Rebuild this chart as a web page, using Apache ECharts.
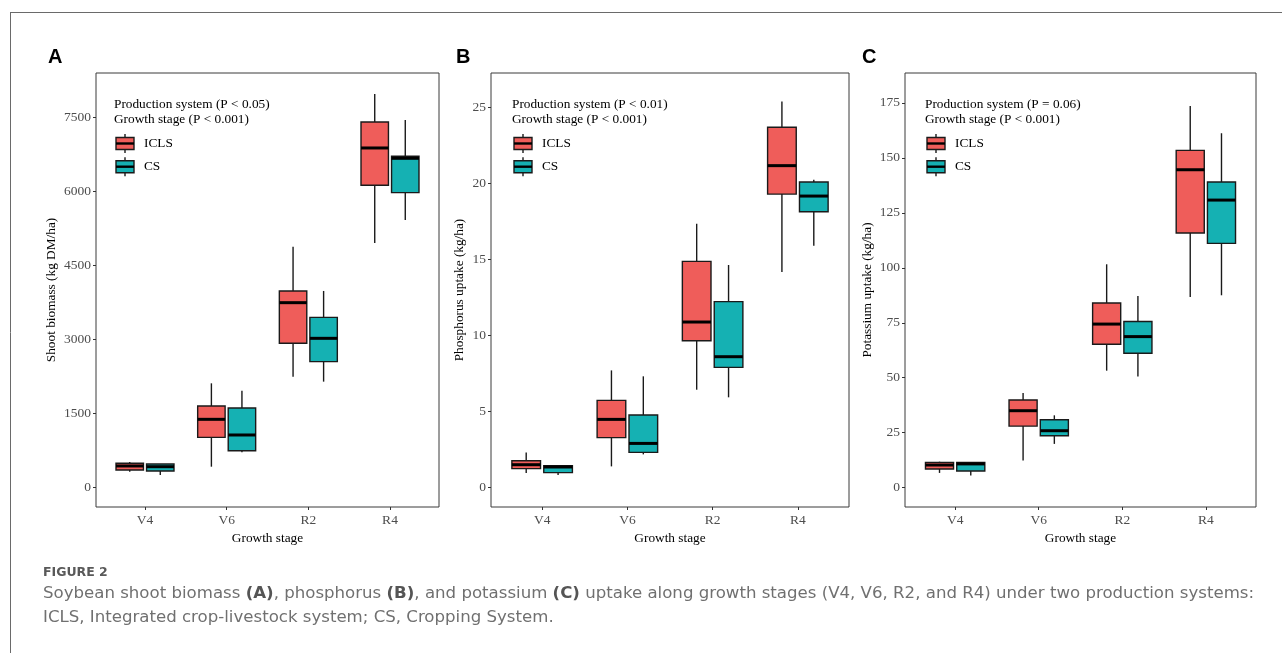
<!DOCTYPE html>
<html><head><meta charset="utf-8">
<script src="https://cdn.jsdelivr.net/npm/echarts@6/dist/echarts.min.js"></script>
<style>html,body{margin:0;padding:0;background:#fff}#c{width:1282px;height:653px}</style>
</head><body><div id="c"></div>
<script>
// ---------- data ----------
const stages = ['V4', 'V6', 'R2', 'R4'];
const systems = ['ICLS', 'CS'];
// each box: [min, Q1, median, Q3, max]
const biomassICLS = [[324, 358, 440, 494, 520], [425, 1019, 1384, 1654, 2113], [2248, 2923, 3746, 3983, 4880], [4955, 6122, 6878, 7405, 7972]];
const biomassCS   = [[257, 338, 425, 480, 480], [716, 749, 1067, 1613, 1964], [2147, 2552, 3024, 3449, 3983], [5420, 5974, 6669, 6710, 7445]];
const phosICLS = [[0.97, 1.25, 1.51, 1.77, 2.32], [1.40, 3.29, 4.49, 5.74, 7.71], [6.44, 9.66, 10.89, 14.88, 17.35], [14.18, 19.30, 21.17, 23.69, 25.39]];
const phosCS   = [[0.83, 0.99, 1.36, 1.45, 1.47], [2.19, 2.32, 2.91, 4.78, 7.32], [5.94, 7.91, 8.61, 12.23, 14.64], [15.91, 18.14, 19.17, 20.09, 20.24]];
const potICLS = [[6.7, 8.5, 10.3, 11.5, 11.8], [12.4, 28.0, 35.0, 39.9, 43.1], [53.2, 65.2, 74.4, 84.0, 101.6], [86.7, 115.8, 144.6, 153.4, 173.6]];
const potCS   = [[5.5, 7.6, 10.8, 11.5, 11.5], [19.9, 23.6, 25.9, 30.9, 32.9], [50.6, 61.1, 68.7, 75.6, 87.2], [87.5, 111.1, 130.8, 139.0, 161.2]];
const ticksA = [0, 1500, 3000, 4500, 6000, 7500];
const ticksB = [0, 5, 10, 15, 20, 25];
const ticksC = [0, 25, 50, 75, 100, 125, 150, 175];
const yNames = ['Shoot biomass (kg DM/ha)', 'Phosphorus uptake (kg/ha)', 'Potassium uptake (kg/ha)'];
const xName = 'Growth stage';
const panelLetters = ['A', 'B', 'C'];
const legendTitles = [
  ['Production system (P < 0.05)', 'Growth stage (P < 0.001)'],
  ['Production system (P < 0.01)', 'Growth stage (P < 0.001)'],
  ['Production system (P = 0.06)', 'Growth stage (P < 0.001)']
];
const captionHead = 'FIGURE 2';

// ---------- styling / layout ----------
const COLORS = ['#EF5D5A', '#15B1B3'];
const SERIF = 'Liberation Serif';
const grids = [
  {left: 96, top: 73, width: 343, height: 434},
  {left: 491, top: 73, width: 358, height: 434},
  {left: 905, top: 73, width: 351, height: 434}
];
const yRanges = [[-391, 8396], [-1.27, 27.26], [-8.8, 188.6]];
const yTicks = [ticksA, ticksB, ticksC];
const nameGaps = [38, 25, 31];
const legendOff = [ {title: 18, key: 20, lab: 48}, {title: 21, key: 23, lab: 51}, {title: 20, key: 22, lab: 50} ];
const letterX = [48, 456, 862];
const OFFSET = 0.187, BOXW = 0.336;

function boxRenderer(offset, color) {
  return function (params, api) {
    const x = api.value(0) + offset;
    const pMin = api.coord([x, api.value(1)]);
    const pQ1 = api.coord([x, api.value(2)]);
    const pMd = api.coord([x, api.value(3)]);
    const pQ3 = api.coord([x, api.value(4)]);
    const pMax = api.coord([x, api.value(5)]);
    const w = api.size([BOXW, 0])[0];
    const cx = pMd[0];
    return {type: 'group', children: [
      {type: 'line', shape: {x1: cx, y1: pMax[1], x2: cx, y2: pQ3[1]}, style: {stroke: '#1a1a1a', lineWidth: 1.4}},
      {type: 'line', shape: {x1: cx, y1: pQ1[1], x2: cx, y2: pMin[1]}, style: {stroke: '#1a1a1a', lineWidth: 1.4}},
      {type: 'rect', shape: {x: cx - w / 2, y: pQ3[1], width: w, height: pQ1[1] - pQ3[1]}, style: {fill: color, stroke: '#1a1a1a', lineWidth: 1.4}},
      {type: 'line', shape: {x1: cx - w / 2, y1: pMd[1], x2: cx + w / 2, y2: pMd[1]}, style: {stroke: '#000', lineWidth: 3}}
    ]};
  };
}

const panelData = [[biomassICLS, biomassCS], [phosICLS, phosCS], [potICLS, potCS]];
const xTickVals = stages.map((s, i) => i + 1);

const xAxes = [], yAxes = [], series = [], graphics = [];
grids.forEach((g, i) => {
  xAxes.push({
    gridIndex: i, type: 'value', min: 0.4, max: 4.6, position: 'bottom',
    splitLine: {show: false}, axisLine: {show: false, onZero: false},
    axisTick: {show: true, inside: false, length: 3, customValues: xTickVals, lineStyle: {color: '#333', width: 1}},
    axisLabel: {customValues: xTickVals, formatter: v => stages[Math.round(v) - 1] || '', fontFamily: SERIF, fontSize: 13.5, color: '#4d4d4d', margin: 6},
    name: xName, nameLocation: 'middle', nameGap: 22,
    nameTextStyle: {fontFamily: SERIF, fontSize: 13.3, color: '#000'}
  });
  yAxes.push({
    gridIndex: i, type: 'value', min: yRanges[i][0], max: yRanges[i][1], position: 'left',
    splitLine: {show: false}, axisLine: {show: false, onZero: false},
    axisTick: {show: true, inside: false, length: 3, customValues: yTicks[i], lineStyle: {color: '#333', width: 1}},
    axisLabel: {customValues: yTicks[i], formatter: v => String(v), fontFamily: SERIF, fontSize: 13.5, color: '#4d4d4d', margin: 5},
    name: yNames[i], nameLocation: 'middle', nameGap: nameGaps[i],
    nameTextStyle: {fontFamily: SERIF, fontSize: 13.3, color: '#000'}
  });
  panelData[i].forEach((arr, s) => {
    series.push({
      type: 'custom', name: systems[s], xAxisIndex: i, yAxisIndex: i,
      renderItem: boxRenderer(s === 0 ? -OFFSET : OFFSET, COLORS[s]),
      encode: {x: 0, y: [1, 2, 3, 4, 5]},
      data: arr.map((b, k) => [k + 1].concat(b)),
      clip: false, silent: true
    });
  });
  // panel letter
  graphics.push({type: 'text', left: letterX[i], top: 47, style: {text: panelLetters[i], font: 'bold 20px "Liberation Sans"', fill: '#000'}});
  // legend
  const lo = legendOff[i];
  legendTitles[i].forEach((t, k) => {
    graphics.push({type: 'text', x: g.left + lo.title, y: 105 + k * 15, style: {text: t, font: '13.3px "Liberation Serif"', fill: '#000', textVerticalAlign: 'middle'}});
  });
  systems.forEach((s, k) => {
    const cy = 143.5 + k * 23.2;
    const kx = g.left + lo.key;
    graphics.push({type: 'line', shape: {x1: kx + 9, y1: cy - 9.5, x2: kx + 9, y2: cy + 9.5}, style: {stroke: '#1a1a1a', lineWidth: 1.4}});
    graphics.push({type: 'rect', shape: {x: kx, y: cy - 6, width: 18, height: 12}, style: {fill: COLORS[k], stroke: '#1a1a1a', lineWidth: 1.4}});
    graphics.push({type: 'line', shape: {x1: kx, y1: cy, x2: kx + 18, y2: cy}, style: {stroke: '#000', lineWidth: 2.4}});
    graphics.push({type: 'text', x: g.left + lo.lab, y: cy, style: {text: s, font: '13.3px "Liberation Serif"', fill: '#000', textVerticalAlign: 'middle'}});
  });
});

// outer frame
graphics.push({type: 'line', shape: {x1: 10, y1: 12.5, x2: 1282, y2: 12.5}, style: {stroke: '#6a6a6a', lineWidth: 1}});
graphics.push({type: 'line', shape: {x1: 10.5, y1: 12, x2: 10.5, y2: 653}, style: {stroke: '#6a6a6a', lineWidth: 1}});
// caption
graphics.push({type: 'text', x: 43, y: 573, style: {text: captionHead, font: 'bold 12.5px "DejaVu Sans"', fill: '#595959', textVerticalAlign: 'middle'}});
graphics.push({type: 'text', x: 43, y: 594, style: {
  text: 'Soybean shoot biomass {b|(A)}, phosphorus {b|(B)}, and potassium {b|(C)} uptake along growth stages (V4, V6, R2, and R4) under two production systems:',
  font: '16.6px "DejaVu Sans"', fill: '#707070', textVerticalAlign: 'middle',
  rich: {b: {fontWeight: 'bold', fontFamily: 'DejaVu Sans', fontSize: 16.6, fill: '#555'}}
}});
graphics.push({type: 'text', x: 43, y: 617.5, style: {
  text: 'ICLS, Integrated crop-livestock system; CS, Cropping System.',
  font: '16.6px "DejaVu Sans"', fill: '#707070', textVerticalAlign: 'middle'
}});

const chart = echarts.init(document.getElementById('c'), null, {renderer: 'canvas'});
chart.setOption({
  animation: false,
  backgroundColor: '#fff',
  grid: grids.map(g => Object.assign({show: true, borderColor: '#3a3a3a', borderWidth: 1, backgroundColor: 'transparent'}, g)),
  xAxis: xAxes,
  yAxis: yAxes,
  series: series,
  graphic: graphics
});
</script>
</body></html>
